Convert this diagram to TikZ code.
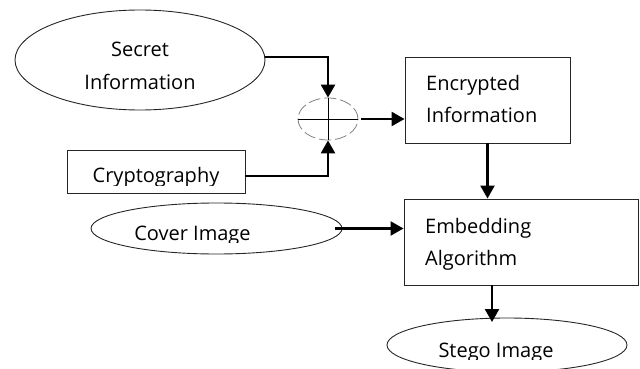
\documentclass[tikz,border=0pt]{standalone}
\usepackage{fontspec}
\setmainfont{Open Sans}
\usetikzlibrary{shapes.geometric,arrows.meta}
\begin{document}
\begin{tikzpicture}[x=1pt,y=-1pt,
  shapeline/.style={draw=black!85, line width=0.9pt},
  ell/.style={shapeline, ellipse, inner sep=0pt},
  boxn/.style={shapeline, rectangle, inner sep=0pt},
  lbl/.style={font=\fontsize{20}{32}\selectfont, inner sep=0pt, anchor=base},
  arr/.style={line width=2.4pt, -{Triangle[length=13pt,width=14pt]}}]
\useasboundingbox (0,0) rectangle (640,369);
\clip (0,0) rectangle (640,369);
% shapes
\node[ell, minimum width=250pt, minimum height=100pt] (secret) at (140,60) {};
\node[boxn, minimum width=178pt, minimum height=43pt] (crypto) at (156,171.5) {};
\node[ell, minimum width=251pt, minimum height=51pt] (cover) at (216.5,228.5) {};
\node[boxn, minimum width=165pt, minimum height=86pt] (enc) at (487.5,100) {};
\node[boxn, minimum width=234pt, minimum height=86pt] (emb) at (521,242) {};
\node[ell, minimum width=240pt, minimum height=54pt] (stego) at (507,345) {};
\node[ellipse, draw=gray, line width=0.8pt, dash pattern=on 12pt off 4pt, minimum width=60pt, minimum height=42pt, inner sep=0pt] (xor) at (328,119) {};
\draw[line width=0.8pt] (xor.west) -- (xor.east);
\draw[line width=0.8pt] (xor.north) -- (xor.south);
% labels
\node[lbl] (t1) at (140,57) {Secret};
\node[lbl] (t2) at (140,89) {Information};
\node[lbl, anchor=base west] (t3) at (426,90.5) {Encrypted};
\node[lbl, anchor=base west] (t4) at (426,122.5) {Information};
\node[lbl, anchor=base west] (t5) at (425,233) {Embedding};
\node[lbl, anchor=base west] (t6) at (425,265) {Algorithm};
\begin{scope}
\clip (67,150) rectangle (245,185);
\node[lbl] (t7) at (156,182) {Cryptography};
\end{scope}
\begin{scope}
\clip (91,203) rectangle (342,242);
\node[lbl] (t8) at (192.5,240) {Cover Image};
\end{scope}
\begin{scope}
\clip (387,318) rectangle (627,359);
\node[lbl] (t9) at (496,357) {Stego Image};
\end{scope}
% connectors
\coordinate (st) at (492,322);
\draw[arr] ([yshift=3pt]secret.east) -| (xor.north);
\draw[arr] ([yshift=-4.5pt]crypto.east) -| (xor.south);
\draw[arr] ([xshift=3pt]xor.east) -- (xor.east -| enc.west);
\draw[arr] (enc.south) -- (emb.north -| enc.south);
\draw[arr] ([xshift=-7pt]cover.east) -- (cover.east -| emb.west);
\draw[arr] (emb.south -| st) -- (st);
\end{tikzpicture}
\end{document}
